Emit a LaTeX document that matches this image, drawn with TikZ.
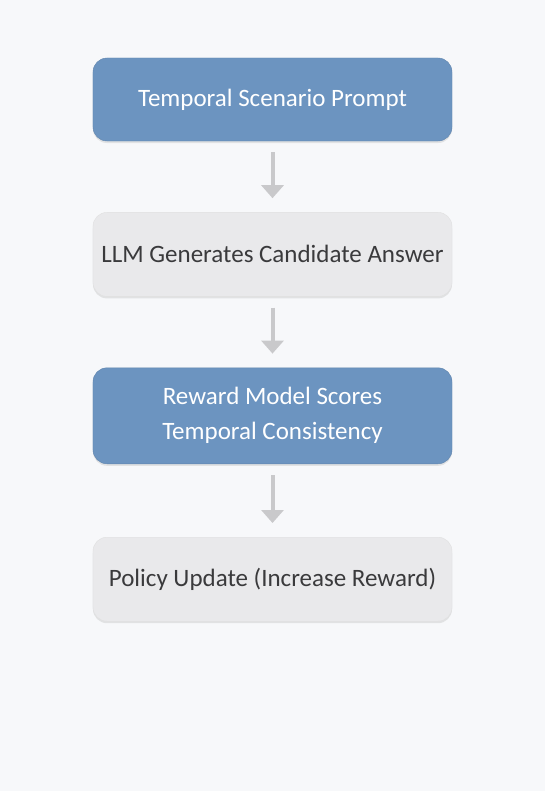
\documentclass[tikz,border=0pt]{standalone}
\usepackage{fontspec}
\setmainfont{Carlito}
\usetikzlibrary{positioning,arrows.meta,shadows}
\definecolor{bgcol}{HTML}{F7F8FA}
\definecolor{stepblue}{HTML}{6C94C0}
\definecolor{stepgray}{HTML}{E9E9EB}
\definecolor{arrowgray}{HTML}{C9C9CB}
\definecolor{textgray}{HTML}{3A3A3C}
\tikzset{
  base/.style={rounded corners=14bp,minimum width=359bp,minimum height=84bp,
    inner xsep=3bp,align=center,font=\fontsize{25bp}{35bp}\selectfont,
    drop shadow={shadow xshift=0bp,shadow yshift=-2bp,opacity=.18}},
  bluebox/.style={base,fill=stepblue,draw=stepblue!90!black,text=white},
  graybox/.style={base,fill=stepgray,draw=black!12,text=textgray},
  flow/.style={arrowgray,line width=4bp,-{Triangle[width=22bp,length=13bp]}}
}
\begin{document}
\begin{tikzpicture}[x=1bp,y=-1bp,node distance=71bp]
\fill[bgcol] (0,0) rectangle (545,791);
\useasboundingbox (0,0) rectangle (545,791);
\node [bluebox,minimum height=83bp] (prompt) at (272.5,99.5) {Temporal Scenario Prompt};
\node [graybox,below=of prompt] (answer) {LLM Generates Candidate Answer};
\node [bluebox,below=of answer,minimum height=96bp] (reward) {Reward Model Scores\\Temporal Consistency};
\node [graybox,below=73bp of reward] (policy) {Policy Update (Increase Reward)};
\draw [flow,shorten <=11bp,shorten >=14bp] (prompt) -- (answer);
\draw [flow,shorten <=11bp,shorten >=14bp] (answer) -- (reward);
\draw [flow,shorten <=11bp,shorten >=14bp] (reward) -- (policy);
\end{tikzpicture}
\end{document}
